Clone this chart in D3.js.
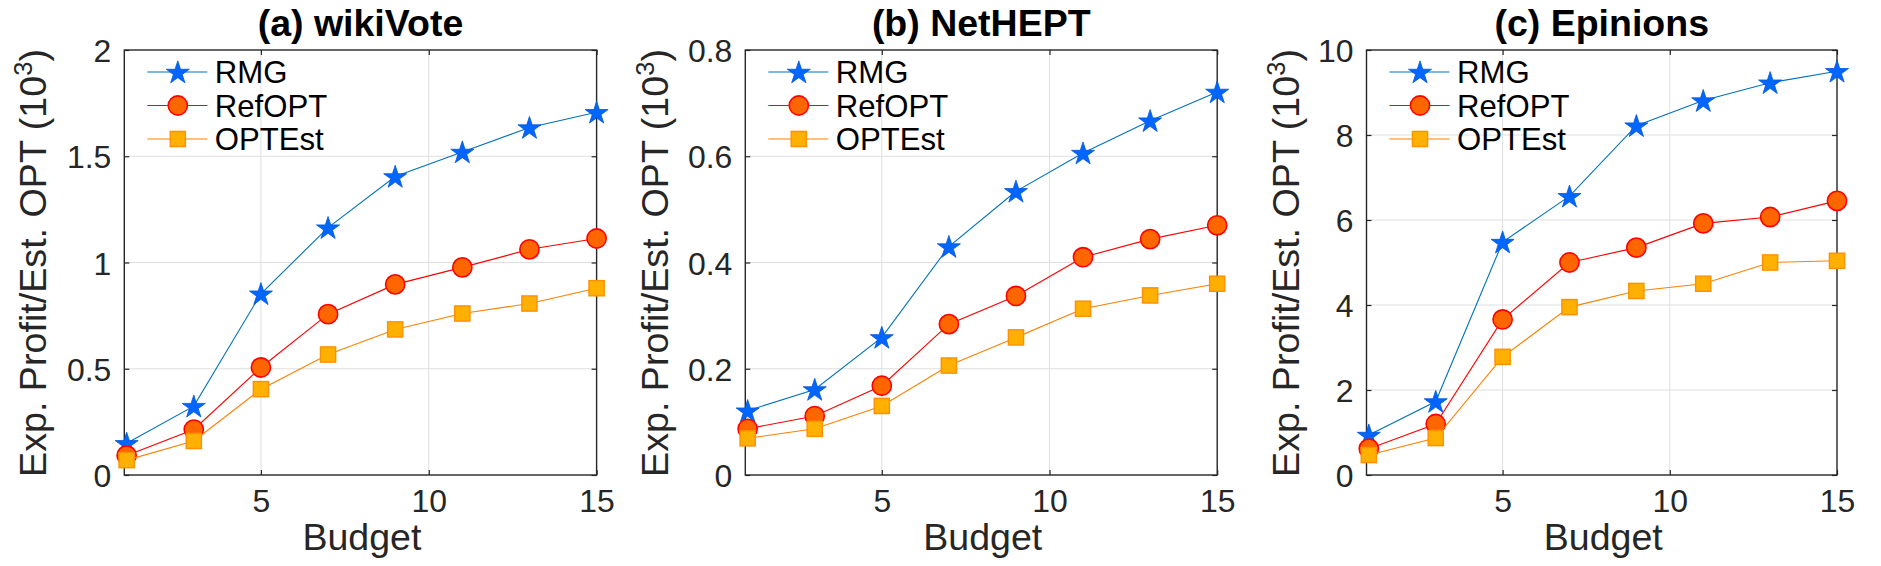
<!DOCTYPE html>
<html>
<head>
<meta charset="utf-8">
<script src="https://cdn.jsdelivr.net/npm/d3@7"></script>
<style>
  html, body { margin: 0; padding: 0; background: #fff; }
  svg { display: block; }
  text { font-family: "Liberation Sans", Arial, Helvetica, sans-serif; }
</style>
</head>
<body>
<svg id="chart" width="1881" height="566"></svg>
<script>
// ---------- data ----------
const budgets = [1, 3, 5, 7, 9, 11, 13, 15];
const seriesNames = ["RMG", "RefOPT", "OPTEst"];
const panelTitles = ["(a) wikiVote", "(b) NetHEPT", "(c) Epinions"];

const wikiVoteRMG    = [0.149, 0.324, 0.853, 1.164, 1.405, 1.520, 1.635, 1.707];
const wikiVoteRefOPT = [0.092, 0.214, 0.506, 0.757, 0.897, 0.977, 1.062, 1.113];
const wikiVoteOPTEst = [0.070, 0.160, 0.404, 0.567, 0.685, 0.760, 0.807, 0.879];

const netheptRMG     = [0.121, 0.161, 0.259, 0.430, 0.534, 0.606, 0.667, 0.721];
const netheptRefOPT  = [0.087, 0.111, 0.168, 0.284, 0.337, 0.410, 0.444, 0.470];
const netheptOPTEst  = [0.069, 0.087, 0.130, 0.206, 0.259, 0.313, 0.338, 0.360];

const epinionsRMG    = [0.94, 1.73, 5.48, 6.56, 8.22, 8.81, 9.23, 9.50];
const epinionsRefOPT = [0.62, 1.20, 3.66, 5.00, 5.35, 5.92, 6.07, 6.45];
const epinionsOPTEst = [0.47, 0.87, 2.78, 3.95, 4.33, 4.50, 5.00, 5.04];

const xTicks = [5, 10, 15];
const yTicksA = [0, 0.5, 1, 1.5, 2];
const yTicksB = [0, 0.2, 0.4, 0.6, 0.8];
const yTicksC = [0, 2, 4, 6, 8, 10];

const xLabel = "Budget";

// ---------- layout / style ----------
const panels = [
  { title: panelTitles[0], series: [wikiVoteRMG, wikiVoteRefOPT, wikiVoteOPTEst], yTicks: yTicksA, yMax: 2,   left: 124.3, right: 596.6, ylabOff: 78 },
  { title: panelTitles[1], series: [netheptRMG, netheptRefOPT, netheptOPTEst],    yTicks: yTicksB, yMax: 0.8, left: 745.3, right: 1217.2, ylabOff: 77 },
  { title: panelTitles[2], series: [epinionsRMG, epinionsRefOPT, epinionsOPTEst], yTicks: yTicksC, yMax: 10,  left: 1366.5, right: 1837.0, ylabOff: 68 }
];
const plotTop = 50, plotBottom = 475;

const styles = [
  { line: "#0072bd", fill: "#0066ff", stroke: "#0057d9", marker: "star" },
  { line: "#ff0000", fill: "#ff6600", stroke: "#ff0000", marker: "circle" },
  { line: "#ff8000", fill: "#ffb000", stroke: "#ff9000", marker: "square" }
];

const svg = d3.select("#chart");
const textColor = "#262626";

// font size that makes a sample string render at a target length
function fittedSize(str, base, target, weight) {
  const t = svg.append("text").style("font-size", base + "px")
    .style("font-weight", weight || "normal").text(str);
  const len = t.node().getComputedTextLength();
  t.remove();
  return len > 0 ? base * target / len : base;
}
function fitWidth(sel, target) {
  const f = parseFloat(sel.style("font-size"));
  const len = sel.node().getComputedTextLength();
  if (len > 0) sel.style("font-size", (f * target / len) + "px");
}

const tickSize = Math.min(34, Math.max(30, fittedSize("10", 32, 35.5)));
const legendSize = Math.min(34, Math.max(29, fittedSize("RefOPT", 32, 112.5)));
const titleSize = 37.5;

function drawMarker(g, type, st, x, y) {
  if (type === "star") {
    g.append("path")
      .attr("d", d3.symbol().type(d3.symbolStar).size(165)())
      .attr("transform", `translate(${x},${y + 1})`)
      .attr("fill", st.fill).attr("stroke", st.stroke).attr("stroke-width", 0.8);
  } else if (type === "circle") {
    g.append("circle").attr("cx", x).attr("cy", y).attr("r", 9.6)
      .attr("fill", st.fill).attr("stroke", st.stroke).attr("stroke-width", 1.6);
  } else {
    g.append("rect").attr("x", x - 7.6).attr("y", y - 7.6).attr("width", 15.2).attr("height", 15.2)
      .attr("fill", st.fill).attr("stroke", st.stroke).attr("stroke-width", 1.4);
  }
}

panels.forEach(p => {
  const g = svg.append("g");
  const x = d3.scaleLinear().domain([0.93, 15]).range([p.left, p.right]);
  const y = d3.scaleLinear().domain([0, p.yMax]).range([plotBottom, plotTop]);

  // grid
  g.selectAll(".vg").data(xTicks.filter(t => t < 15)).join("line")
    .attr("x1", d => x(d)).attr("x2", d => x(d)).attr("y1", plotTop).attr("y2", plotBottom)
    .attr("stroke", "#dfdfdf").attr("stroke-width", 1);
  g.selectAll(".hg").data(p.yTicks.filter(t => t > 0 && t < p.yMax)).join("line")
    .attr("x1", p.left).attr("x2", p.right).attr("y1", d => y(d)).attr("y2", d => y(d))
    .attr("stroke", "#dfdfdf").attr("stroke-width", 1);

  // axes (ticks inward)
  const fmt = d3.format("~g");
  const axB = g.append("g").attr("transform", `translate(0,${plotBottom})`)
    .call(d3.axisBottom(x).tickValues(xTicks).tickSize(-5).tickPadding(14).tickFormat(fmt));
  const axT = g.append("g").attr("transform", `translate(0,${plotTop})`)
    .call(d3.axisTop(x).tickValues(xTicks).tickSize(-5).tickFormat(""));
  const axL = g.append("g").attr("transform", `translate(${p.left},0)`)
    .call(d3.axisLeft(y).tickValues(p.yTicks).tickSize(-5).tickPadding(13).tickFormat(fmt));
  const axR = g.append("g").attr("transform", `translate(${p.right},0)`)
    .call(d3.axisRight(y).tickValues(p.yTicks).tickSize(-5).tickFormat(""));
  [axB, axT, axL, axR].forEach(a => {
    a.select(".domain").remove();
    a.selectAll(".tick line").attr("stroke", textColor).attr("stroke-width", 1.2);
    a.selectAll(".tick text").attr("fill", textColor).style("font-size", tickSize + "px")
      .style("font-family", '"Liberation Sans", Arial, sans-serif');
  });
  axB.selectAll(".tick text").attr("dy", "0.71em");
  axL.selectAll(".tick text").attr("dy", "0.36em");

  // frame
  g.append("rect").attr("x", p.left).attr("y", plotTop)
    .attr("width", p.right - p.left).attr("height", plotBottom - plotTop)
    .attr("fill", "none").attr("stroke", textColor).attr("stroke-width", 1.4);

  // series
  const lineGen = d3.line().x((d, i) => x(budgets[i])).y(d => y(d));
  p.series.forEach((vals, si) => {
    const st = styles[si];
    const sg = g.append("g");
    sg.append("path").datum(vals).attr("d", lineGen)
      .attr("fill", "none").attr("stroke", st.line).attr("stroke-width", 1.1);
    vals.forEach((v, i) => drawMarker(sg, st.marker, st, x(budgets[i]), y(v)));
  });

  // legend
  const legRows = [72, 105.5, 139];
  seriesNames.forEach((name, si) => {
    const st = styles[si];
    const ly = legRows[si];
    const lg = g.append("g");
    lg.append("line").attr("x1", p.left + 23).attr("x2", p.left + 83)
      .attr("y1", ly).attr("y2", ly).attr("stroke", st.line).attr("stroke-width", 1.2);
    drawMarker(lg, st.marker, st, p.left + 53.5, ly);
    lg.append("text").attr("x", p.left + 90.5).attr("y", ly + legendSize * 0.36)
      .attr("fill", "#000").style("font-size", legendSize + "px").text(name);
  });

  // title
  g.append("text").attr("x", (p.left + p.right) / 2).attr("y", 35.5)
    .attr("text-anchor", "middle").attr("fill", "#000")
    .style("font-size", titleSize + "px").style("font-weight", "bold").text(p.title);

  // x label
  const xl = g.append("text").attr("x", (p.left + p.right) / 2 + 1.5).attr("y", 550)
    .attr("text-anchor", "middle").attr("fill", textColor)
    .style("font-size", "36px").text(xLabel);
  fitWidth(xl, 119);

  // y label
  const yl = g.append("text")
    .attr("transform", `translate(${p.left - p.ylabOff},${(plotTop + plotBottom) / 2 + 0.5}) rotate(-90)`)
    .attr("text-anchor", "middle").attr("fill", textColor).style("font-size", "38px");
  yl.append("tspan").text("Exp. Profit/Est. OPT (10");
  yl.append("tspan").attr("dy", "-0.54em").style("font-size", "0.68em").text("3");
  yl.append("tspan").attr("dy", "0.367em").text(")");
  fitWidth(yl, 428);
});
</script>
</body>
</html>
